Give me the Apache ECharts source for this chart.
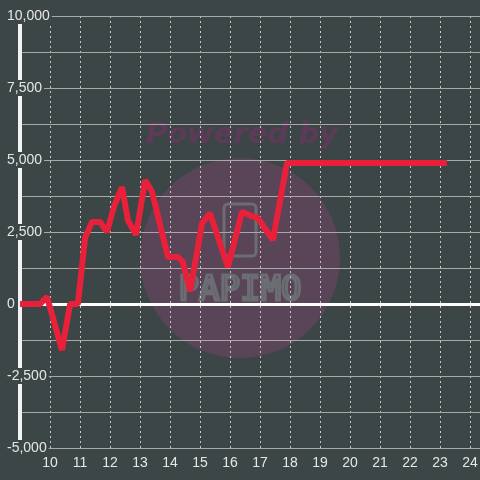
<!DOCTYPE html>
<html>
<head>
<meta charset="utf-8">
<script src="https://cdn.jsdelivr.net/npm/echarts@6/dist/echarts.min.js"></script>
<style>
  html, body { margin: 0; padding: 0; background: #3c4646; }
  #chart { width: 480px; height: 480px; }
</style>
</head>
<body>
<div id="chart"></div>
<script>
// hour of day vs running value
const times = [9, 9.67, 9.9, 10.4, 10.67, 10.93, 11.17, 11.4, 11.67, 11.9, 12.13, 12.4, 12.6, 12.87,
  13.17, 13.4, 13.93, 14.27, 14.43, 14.67, 15.07, 15.33, 15.93, 16.4, 16.73, 16.93, 17.43, 17.9, 23.23]
const values = [0, 0, 250, -1600, 0, 0, 2300, 2850, 2850, 2500, 3370, 4060, 2900, 2400,
  4300, 3900, 1630, 1630, 1450, 450, 2800, 3150, 1280, 3200, 3050, 2980, 2220, 4900, 4900]
const yLabels = [-5000, -2500, 0, 2500, 5000, 7500, 10000]

const bg = '#3c4646'
const gridGray = '#a8a8a8'
// split line colours by tick index (-5000 step 1250), the zero one is white
const splitColors = [gridGray, gridGray, gridGray, gridGray, '#ffffff', gridGray, gridGray,
  gridGray, gridGray, gridGray, gridGray, gridGray, gridGray]

const chart = echarts.init(document.getElementById('chart'))

const option = {
  backgroundColor: bg,
  animation: false,
  grid: { left: 20, right: 0, top: 16, bottom: 32, outerBoundsMode: 'none' },
  graphic: [
    {
      type: 'circle', z: -10,
      shape: { cx: 240, cy: 258, r: 100 },
      style: { fill: '#5a4457' }
    },
    {
      type: 'text', z: -10,
      x: 242, y: 135,
      style: {
        text: 'Powered by', fill: '#5d3b58',
        font: 'italic bold 29px "DejaVu Sans"',
        align: 'center', verticalAlign: 'middle'
      }
    },
    {
      type: 'rect', z: -9,
      shape: { x: 224, y: 204, width: 32, height: 52, r: 4 },
      style: { fill: 'none', stroke: '#6a6e72', lineWidth: 3 }
    },
    {
      type: 'text', z: -9,
      x: 240, y: 291,
      style: {
        text: 'PAPIMO', fill: 'none', stroke: '#6a6e72', lineWidth: 3,
        font: '34px "DejaVu Sans Mono"',
        align: 'center', verticalAlign: 'middle'
      }
    }
  ],
  xAxis: [
    {
      type: 'value',
      min: 9,
      max: 24.333,
      interval: 1,
      axisLine: { show: false, onZero: false },
      axisTick: { show: false },
      axisLabel: {
        color: '#e6e6e6', fontSize: 14, fontFamily: 'Liberation Sans', margin: 8,
        formatter: v => (v === 9 ? '' : String(v))
      },
      splitLine: { show: true, lineStyle: { color: '#c8c8c8', type: [2, 3], width: 1 } }
    },
    {
      // zero line
      type: 'value',
      min: 9,
      max: 24.333,
      axisLine: { show: true, onZero: true, lineStyle: { color: '#ffffff', width: 3 } },
      axisTick: { show: false },
      axisLabel: { show: false },
      splitLine: { show: false }
    }
  ],
  yAxis: {
    type: 'value',
    z: 2,
    min: -5000,
    max: 10000,
    interval: 1250,
    axisLine: { show: true, lineStyle: { color: '#f2f2f2', width: 4 } },
    axisTick: { show: false },
    axisLabel: {
      color: '#e6e6e6', fontSize: 14, fontFamily: 'Liberation Sans',
      margin: 13, align: 'left', backgroundColor: bg, padding: [1, 2, 1, 0],
      formatter: v => (yLabels.includes(v) ? v.toLocaleString('en-US') : '')
    },
    splitLine: { show: true, lineStyle: { color: splitColors, width: 1 } }
  },
  series: [
    {
      type: 'line',
      z: 3,
      data: times.map((t, i) => [t, values[i]]),
      showSymbol: false,
      lineStyle: { color: '#e8203a', width: 6 }
    }
  ]
}

chart.setOption(option)
</script>
</body>
</html>
